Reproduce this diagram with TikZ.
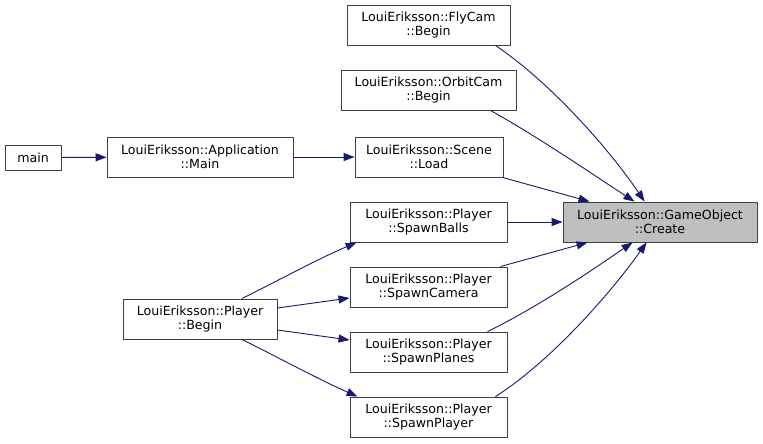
\documentclass[tikz,border=0pt]{standalone}
\usepackage{fontspec}
\setmainfont{DejaVu Sans}
\usetikzlibrary{arrows.meta}
\definecolor{edgeblue}{HTML}{191970}
\definecolor{hlgray}{HTML}{BFBFBF}
\begin{document}
\begin{tikzpicture}[x=1pt,y=-1pt,
  fn/.style={draw=black!75, line width=0.9pt, fill=white, align=center, inner sep=1pt,
    minimum height=40pt, font=\fontsize{12.6}{14.5}\selectfont},
  conn/.style={draw=edgeblue, line width=0.9pt, -{Triangle[length=11pt,width=8pt]}}]
\useasboundingbox (0,0) rectangle (763,444);
\fill[white] (0,0) rectangle (763,444);
\node[fn, minimum width=56pt, minimum height=25pt] (main) at (33,157.5) {main};
\node[fn, minimum width=186pt] (app) at (200,157) {LouiEriksson::Application\\::Main};
\node[fn, minimum width=163pt] (fly) at (428.5,25) {LouiEriksson::FlyCam\\::Begin};
\node[fn, minimum width=175pt] (orbit) at (428.5,90) {LouiEriksson::OrbitCam\\::Begin};
\node[fn, minimum width=148pt] (scene) at (429,157) {LouiEriksson::Scene\\::Load};
\node[fn, minimum width=194pt, fill=hlgray] (create) at (660,222) {LouiEriksson::GameObject\\::Create};
\node[fn, minimum width=157pt] (balls) at (428.5,222) {LouiEriksson::Player\\::SpawnBalls};
\node[fn, minimum width=157pt] (cam) at (428.5,287) {LouiEriksson::Player\\::SpawnCamera};
\node[fn, minimum width=157pt] (planes) at (428.5,352) {LouiEriksson::Player\\::SpawnPlanes};
\node[fn, minimum width=157pt] (player) at (428.5,417) {LouiEriksson::Player\\::SpawnPlayer};
\node[fn, minimum width=154pt] (begin) at (200,319) {LouiEriksson::Player\\::Begin};

\draw[conn] (main) -- (app);
\draw[conn] (app) -- (scene);
\draw[conn] ([xshift=-15pt]fly.south east) .. controls (550,82) and (610,150) .. ([xshift=82pt]create.north west);
\draw[conn] ([xshift=-26pt]orbit.south east) .. controls (540,138) and (595,176) .. ([xshift=72pt]create.north west);
\draw[conn] ([xshift=-1pt]scene.south east) -- ([xshift=27pt]create.north west);
\draw[conn] (balls) -- (create);
\draw[conn] ([xshift=-7pt]cam.north east) -- ([xshift=25pt]create.south west);
\draw[conn] ([xshift=-20pt]planes.north east) .. controls (540,306) and (595,268) .. ([xshift=70pt]create.south west);
\draw[conn] ([xshift=-12pt]player.north east) .. controls (550,362) and (610,294) .. ([xshift=84pt]create.south west);
\draw[conn] ([xshift=42pt]begin.north) .. controls (285,277) and (320,258) .. ([xshift=7pt]balls.south west);
\draw[conn] ([yshift=11pt]begin.east) -- ([yshift=-11pt]cam.west);
\draw[conn] ([yshift=-11pt]begin.east) -- ([yshift=12pt]planes.west);
\draw[conn] ([xshift=42pt]begin.south) .. controls (285,361) and (320,380) .. ([xshift=8pt]player.north west);
\end{tikzpicture}
\end{document}
